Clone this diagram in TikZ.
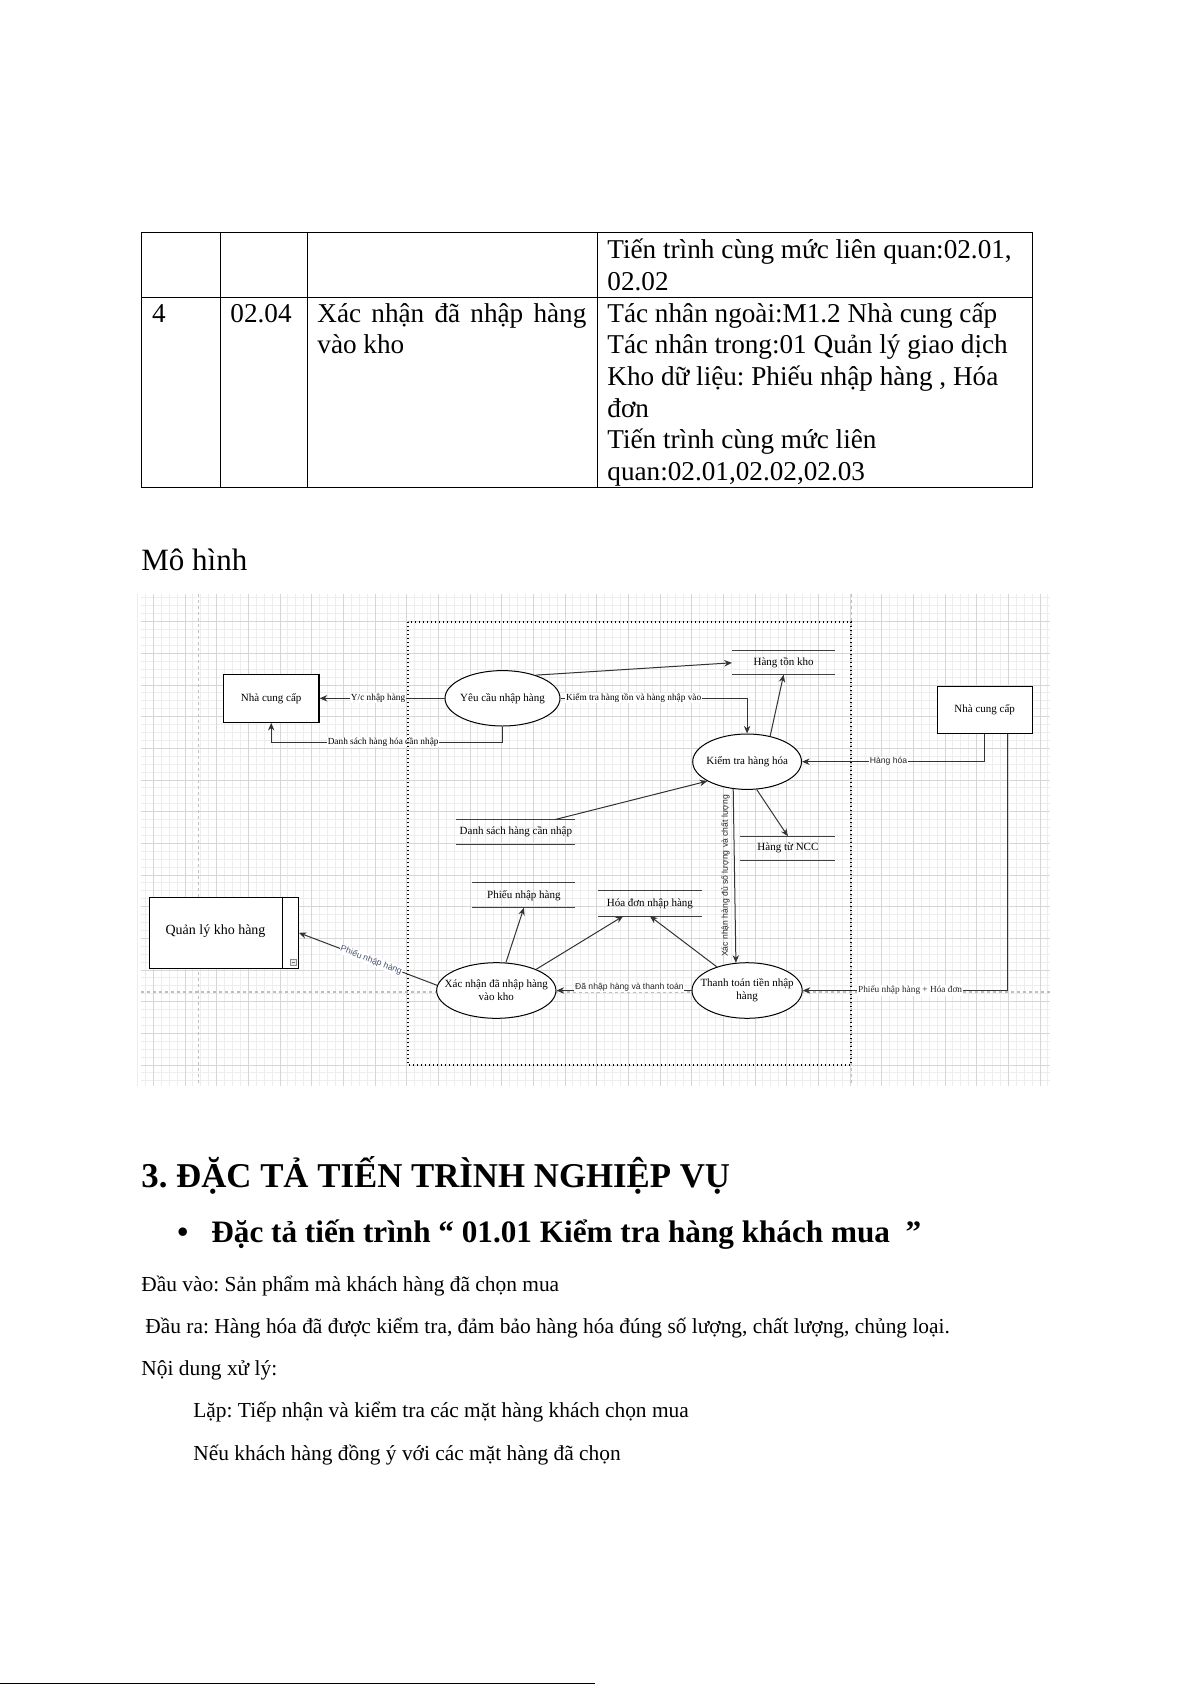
\documentclass[tikz,border=0pt]{standalone}
\usepackage{fontspec}
\setmainfont{Liberation Serif}
\newfontfamily\sansf{Liberation Sans}
\usetikzlibrary{shapes.geometric,arrows.meta,calc}
\definecolor{labblue}{RGB}{70,82,118}
\newcommand{\dstore}[6]{%
  \node[store,minimum width=#4,minimum height=#5] (#1) at (#2,#3) {#6};
  \draw[storeline] (#1.north west) -- (#1.north east) (#1.south west) -- (#1.south east);}
\begin{document}
\frenchspacing
\begin{tikzpicture}[x=0.5pt,y=-0.5pt,
  ptxt/.style={anchor=base west,inner sep=0pt},
  tbl/.style={ptxt,font=\fontsize{13.6pt}{16pt}\selectfont},
  body/.style={ptxt,font=\fontsize{10.7pt}{13pt}\selectfont},
  gridminor/.style={black!7,line width=0.5pt},
  gridmajor/.style={black!16,line width=0.5pt},
  pagebreak/.style={black!25,line width=0.6pt,dash pattern=on 1.5pt off 1.5pt},
  boundary/.style={black,line width=0.7pt,dash pattern=on 0.7pt off 1.3pt},
  ent/.style={draw=black,line width=0.6pt,fill=white,inner sep=0pt,font=\fontsize{5.5pt}{6.5pt}\selectfont},
  proc/.style={ellipse,draw=black,line width=0.5pt,fill=white,inner sep=0pt},
  ntext/.style={inner sep=0pt,align=center,font=\fontsize{5.5pt}{6.35pt}\selectfont},
  store/.style={inner sep=0pt,font=\fontsize{5.5pt}{6.5pt}\selectfont},
  storeline/.style={black!75,line width=0.5pt},
  conn/.style={black!80,line width=0.5pt,-{Stealth[length=3.8pt,width=3.2pt]}},
  lab/.style={inner sep=0.4pt,fill=white,text=black,font=\fontsize{4.65pt}{5.5pt}\selectfont},
  slab/.style={inner sep=0.4pt,fill=white,text=black!85,font=\sansf\fontsize{4.3pt}{5pt}\selectfont}]

\fill[white] (0,0) rectangle (1191,1685);
\useasboundingbox (0,0) rectangle (1191,1685);

% ---------------- table ----------------
\draw[line width=0.5pt] (141,233) rectangle (1032,487);
\draw[line width=0.5pt] (141,297) -- (1032,297);
\foreach \cx in {220,307,597} \draw[line width=0.5pt] (\cx,233) -- (\cx,487);
\node[tbl] (r1a) at (607,258.7) {Tiến trình cùng mức liên quan:02.01,};
\node[tbl] (r1b) at (607,290.4) {02.02};
\node[tbl] (r2n) at (151.6,322) {4};
\node[tbl] (r2c) at (230,322) {02.04};
\node[tbl] (r2t1) at (317,322) {\makebox[134.5pt][s]{Xác nhận đã nhập hàng}};
\node[tbl] (r2t2) at (317,353.7) {vào kho};
\node[tbl] (r2d1) at (607,322) {Tác nhân ngoài:M1.2 Nhà cung cấp};
\node[tbl] (r2d2) at (607,353.7) {Tác nhân trong:01 Quản lý giao dịch};
\node[tbl] (r2d3) at (607,385.4) {Kho dữ liệu: Phiếu nhập hàng , Hóa};
\node[tbl] (r2d4) at (607,417.1) {đơn};
\node[tbl] (r2d5) at (607,448.8) {Tiến trình cùng mức liên};
\node[tbl] (r2d6) at (607,480.5) {quan:02.01,02.02,02.03};

\node[ptxt,font=\fontsize{15.5pt}{18pt}\selectfont] (mohinh) at (141,570) {Mô hình};

% ---------------- diagram background grid ----------------
\foreach \i in {-94,...,21}{\pgfmathsetmacro\gx{881.7+7.9167*\i}
  \draw[gridminor] (\gx,594) -- (\gx,1086);}
\foreach \j in {-23,...,38}{\pgfmathsetmacro\gy{780+7.9167*\j}
  \draw[gridminor] (141,\gy) -- (1050,\gy);}
\foreach \i in {-23,...,5}{\pgfmathsetmacro\gx{881.7+31.667*\i}
  \draw[gridmajor] (\gx,594) -- (\gx,1086);}
\foreach \j in {-5,...,9}{\pgfmathsetmacro\gy{780+31.667*\j}
  \draw[gridmajor] (141,\gy) -- (1050,\gy);}
\draw[pagebreak] (198.5,594) -- (198.5,1086);
\draw[pagebreak] (851.5,594) -- (851.5,1086);
\draw[pagebreak] (141,992) -- (1050,992);

% ---------------- nodes ----------------
\node[ent,minimum width=47.85pt,minimum height=24pt] (ncc1) at (271.2,698.3) {Nhà cung cấp};
\node[ent,minimum width=47.5pt,minimum height=23.3pt] (ncc2) at (984.7,710) {Nhà cung cấp};
\node[ent,minimum width=74.5pt,minimum height=35.5pt] (qlk) at (223.8,932.8) {};
\draw[black,line width=0.5pt] ($(qlk.north east)+(-16.6,0)$) -- ($(qlk.south east)+(-16.6,0)$);
\draw[black!45,line width=0.4pt,fill=black!8] ($(qlk.south east)+(-8.6,-4)$) rectangle ($(qlk.south east)+(-3,-9.6)$);
\draw[black!55,line width=0.4pt] ($(qlk.south east)+(-7.4,-6.8)$) -- ($(qlk.south east)+(-4.2,-6.8)$);
\node[inner sep=0pt,font=\fontsize{7pt}{8pt}\selectfont] (qlkt) at (215.5,931) {Quản lý kho hàng};

\node[proc,minimum width=57.5pt,minimum height=27.7pt] (yc) at (502.5,698.3) {};
\node[ntext] (yct) at (yc) {Yêu cầu nhập hàng};
\node[proc,minimum width=54.4pt,minimum height=27.7pt] (kt) at (747.1,761.7) {};
\node[ntext] (ktt) at (kt) {Kiểm tra hàng hóa};
\node[proc,minimum width=59.65pt,minimum height=27.8pt] (xn) at (496.3,990.5) {};
\node[ntext] (xnt) at (xn) {Xác nhận đã nhập hàng\\vào kho};
\node[proc,minimum width=55.1pt,minimum height=27.8pt] (tt) at (747.1,990.5) {};
\node[ntext] (ttt) at (tt) {Thanh toán tiền nhập\\hàng};

\dstore{htk}{783.6}{662.8}{51.3pt}{11.5pt}{Hàng tồn kho}
\dstore{dsc}{515.9}{832}{59.15pt}{12pt}{Danh sách hàng cần nhập}
\dstore{htn}{787.9}{848.3}{47.15pt}{11.65pt}{Hàng từ NCC}
\dstore{pnh}{523.9}{895.3}{51.15pt}{12pt}{Phiếu nhập hàng}
\dstore{hdn}{649.9}{903.5}{51.4pt}{12.2pt}{Hóa đơn nhập hàng}

% ---------------- connectors ----------------
\draw[conn] (yc.west) -- node[lab,pos=0.532]{Y/c nhập hàng} (ncc1.east);
\draw[conn] (yc.south) -- ++(0,15.7) -| node[lab,pos=0.258]{Danh sách hàng hóa cần nhập} (ncc1.south);
\draw[conn] (yc.35) -- (htk.west);
\draw[conn] (yc.east) -| node[lab,pos=0.196]{Kiểm tra hàng tồn và hàng nhập vào} (kt.north);
\draw[conn] (kt.48) -- (htk.south);
\draw[conn] ($(dsc.north east)+(-20.6,0)$) -- (kt.206);
\draw[conn] (ncc2.south) |- node[slab,pos=0.763]{Hàng hóa} (kt.east);
\draw[conn] (kt.-71) -- (htn.north);
\draw[conn] (kt.243) -- node[slab,fill=none,rotate=90,anchor=south,inner sep=2.2pt,pos=0.5]{Xác nhận hàng đủ số lượng và chất lượng} (tt.112);
\draw[conn] ($(ncc2.south)+(22.6,0)$) |- node[lab,text=black!85,pos=0.7375]{Phiếu nhập hàng + Hóa đơn} (tt.east);
\draw[conn] (tt.west) -- node[slab,pos=0.46,yshift=1.5pt]{Đã nhập hàng và thanh toán} (xn.east);
\draw[conn] (tt.142) -- (hdn.south);
\draw[conn] (xn.28) -- ($(hdn.south)+(-26.7,0)$);
\draw[conn] (xn.71) -- (pnh.south);
\draw[conn] (xn.175) -- node[slab,text=labblue,rotate=-21,pos=0.477]{Phiếu nhập hàng} (qlk.east);

\draw[boundary] (408,622) rectangle (851,1065);

% ---------------- text below ----------------
\node[ptxt,font=\bfseries\fontsize{17.4pt}{20pt}\selectfont] (h3) at (141,1187) {3. ĐẶC TẢ TIẾN TRÌNH NGHIỆP VỤ};
\node[ptxt,font=\bfseries\fontsize{15.6pt}{18pt}\selectfont] (bul) at (177,1242) {\textbullet};
\node[ptxt,font=\bfseries\fontsize{15.6pt}{18pt}\selectfont] (h4) at (211,1242) {Đặc tả tiến trình “ 01.01 Kiểm tra hàng khách mua \ ”};
\node[body] (b1) at (141,1291.7) {Đầu vào: Sản phẩm mà khách hàng đã chọn mua};
\node[body] (b2) at (145,1333) {Đầu ra: Hàng hóa đã được kiểm tra, đảm bảo hàng hóa đúng số lượng, chất lượng, chủng loại.};
\node[body] (b3) at (141,1375) {Nội dung xử lý:};
\node[body] (b4) at (193,1417) {Lặp: Tiếp nhận và kiểm tra các mặt hàng khách chọn mua};
\node[body] (b5) at (193,1460) {Nếu khách hàng đồng ý với các mặt hàng đã chọn};

\draw[line width=0.7pt] (0,1683.3) -- (595,1683.3);
\end{tikzpicture}
\end{document}
